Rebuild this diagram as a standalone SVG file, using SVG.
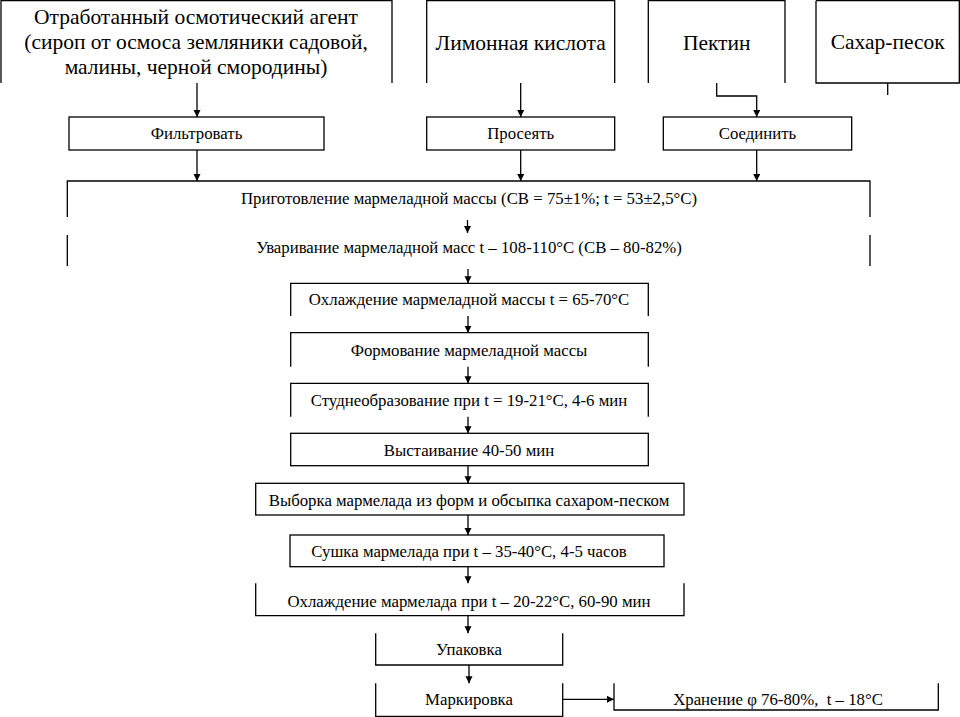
<svg xmlns="http://www.w3.org/2000/svg" width="960" height="717" viewBox="0 0 960 717">
<defs>
<marker id="ah" markerUnits="userSpaceOnUse" markerWidth="8" markerHeight="10" refX="7" refY="3.5" orient="auto">
<path d="M0,0 L7,3.5 L0,7 z" fill="#000"/>
</marker>
<style>
.b{fill:none;stroke:#000;stroke-width:1.3}
.c{fill:none;stroke:#000;stroke-width:1.3;marker-end:url(#ah)}
.t{font-family:"Liberation Serif","Times New Roman",serif;font-size:16.8px;fill:#000;text-anchor:middle}
.L{font-size:21.5px}
</style>
</defs>
<rect width="960" height="717" fill="#fff"/>
<g id="n1"><path class="b" d="M1 83 V0.7 H392 V83"/>
<text class="t L" x="196" y="24">Отработанный осмотический агент</text>
<text class="t L" x="196" y="49">(сироп от осмоса земляники садовой,</text>
<text class="t L" x="196" y="74">малины, черной смородины)</text></g>
<g id="n2"><path class="b" d="M426.7 83 V0.7 H614.7 V83"/><text class="t L" x="520.7" y="50">Лимонная кислота</text></g>
<g id="n3"><path class="b" d="M648.3 83 V0.7 H785 V83"/><text class="t L" x="716.7" y="50">Пектин</text></g>
<g id="n4"><path class="b" d="M816 0.7 V83 H959.3 V0.7 H816"/><text class="t L" x="887.7" y="49">Сахар-песок</text></g>
<g id="n5"><rect class="b" x="69" y="117" width="255" height="33"/><text class="t" x="196.5" y="139">Фильтровать</text></g>
<g id="n6"><rect class="b" x="426.7" y="117" width="188" height="33"/><text class="t" x="520.7" y="139">Просеять</text></g>
<g id="n7"><rect class="b" x="663.3" y="117" width="188.4" height="33"/><text class="t" x="757.5" y="139">Соединить</text></g>
<g id="n8"><path class="b" d="M67.3 217 V181 H870 V217"/><text class="t" x="469" y="204">Приготовление мармеладной массы (СВ = 75±1%; t = 53±2,5°С)</text></g>
<g id="n9"><path class="b" d="M67.3 235 V266 M870 235 V266"/><text class="t" x="469" y="253">Уваривание мармеладной масс t – 108-110°С (СВ – 80-82%)</text></g>
<g id="n10"><path class="b" d="M290.7 316 V283.3 H648.3 V316"/><text class="t" x="469" y="305">Охлаждение мармеладной массы t = 65-70°С</text></g>
<g id="n11"><path class="b" d="M290.7 366.7 V332.7 H648.3 V366.7"/><text class="t" x="469" y="356">Формование мармеладной массы</text></g>
<g id="n12"><path class="b" d="M290.7 416.7 V383.3 H648.3 V416.7"/><text class="t" x="469" y="406">Студнеобразование при t = 19-21°С, 4-6 мин</text></g>
<g id="n13"><rect class="b" x="290.7" y="433.3" width="357.6" height="32.4"/><text class="t" x="469" y="456">Выстаивание 40-50 мин</text></g>
<g id="n14"><rect class="b" x="255.7" y="483.3" width="428.3" height="31.7"/><text class="t" x="469" y="506">Выборка мармелада из форм и обсыпка сахаром-песком</text></g>
<g id="n15"><rect class="b" x="290" y="535" width="374" height="31.7"/><text class="t" x="469" y="557">Сушка мармелада при t – 35-40°С, 4-5 часов</text></g>
<g id="n16"><path class="b" d="M255.7 583.3 V615.7 H684 V583.3"/><text class="t" x="469" y="607">Охлаждение мармелада при t – 20-22°С, 60-90 мин</text></g>
<g id="n17"><path class="b" d="M375.7 633.3 V665 H562.7 V633.3"/><text class="t" x="469" y="655">Упаковка</text></g>
<g id="n18"><path class="b" d="M375.7 683.3 V716.3 H562.7 V683.3"/><text class="t" x="469" y="705">Маркировка</text></g>
<g id="n19"><path class="b" d="M614 683.3 V710 H938.3 V683.3"/><text class="t" x="778" y="705" xml:space="preserve">Хранение φ 76-80%,  t – 18°С</text></g>
<g id="connectors">
<path class="b" d="M887.7 83 V95"/>
<path class="c" d="M197 83 V117"/>
<path class="c" d="M520.7 83 V117"/>
<path class="c" d="M716.7 83 V96 H756.7 V117"/>
<path class="c" d="M197 150 V181"/>
<path class="c" d="M520.7 150 V181"/>
<path class="c" d="M756.7 150 V181"/>
<path class="c" d="M467.5 220 V233"/>
<path class="c" d="M468 269 V283.3"/>
<path class="c" d="M468 316 V332.7"/>
<path class="c" d="M468 366.7 V383.3"/>
<path class="c" d="M468 416.7 V433.3"/>
<path class="c" d="M468 465.7 V483.3"/>
<path class="c" d="M468 515 V535"/>
<path class="c" d="M468 566.7 V583.3"/>
<path class="c" d="M468 615.7 V633.3"/>
<path class="c" d="M469 665 V683.3"/>
<path class="c" d="M562.7 699.3 H614"/>
</g>
</svg>
